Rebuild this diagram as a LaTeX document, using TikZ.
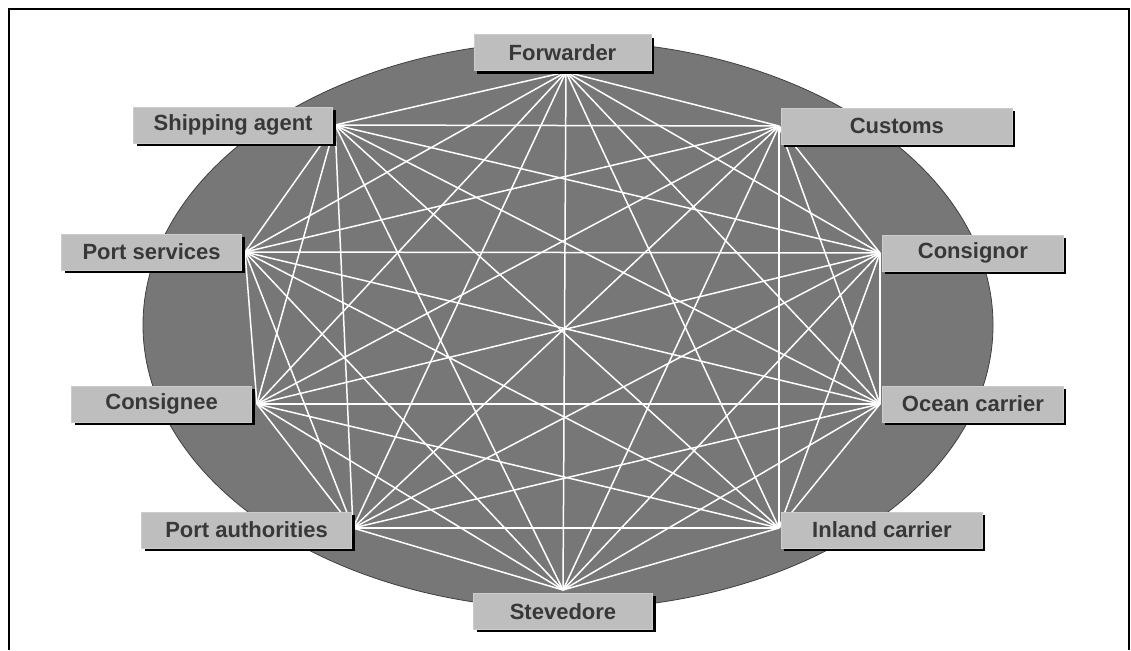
\documentclass[tikz,border=0pt]{standalone}
\usepackage{fontspec}
\setsansfont{Liberation Sans}
\usetikzlibrary{positioning,shadows}
\definecolor{Disc}{HTML}{777777}
\definecolor{BoxGray}{HTML}{BEBEBE}
\definecolor{LabelInk}{HTML}{383838}

\begin{document}
\begin{tikzpicture}[x=1pt,y=-1pt,
    party/.style={draw=white!80!black,fill=BoxGray,line width=0.8pt,
                  minimum height=36pt,inner sep=2pt,text=LabelInk,
                  font=\sffamily\bfseries\fontsize{22}{25}\selectfont,
                  drop shadow={shadow xshift=3pt,shadow yshift=-3pt,
                               fill=black,opacity=1}},
    link/.style={white,line width=1.5pt}]
  \useasboundingbox (0,0) rectangle (1131,650);
  % frame, open at the bottom
  \draw[line width=1.3pt] (9,650) -- (9,9) -- (1129,9) -- (1129,650);
  \filldraw[fill=Disc,draw=black!75,line width=0.8pt]
    (568,325) ellipse [x radius=425pt,y radius=284pt];

  % hubs where the links meet
  \foreach \n/\x/\y in {fwd/566/72,ship/335/125,cust/779/126,psvc/245/252,
      cnor/880/253,cnee/257/404,ocean/880/404,pauth/353/528,
      inland/779/528,stev/563/590}
    \coordinate (\n) at (\x,\y);

  % every party is linked with every other one
  \foreach \a [count=\i] in {fwd,ship,cust,psvc,cnor,cnee,ocean,pauth,inland,stev}
    \foreach \b [count=\j] in {fwd,ship,cust,psvc,cnor,cnee,ocean,pauth,inland,stev}
      {\ifnum\i<\j \draw[link] (\a) -- (\b); \fi}

  \node[party,minimum width=177pt,above=1pt of fwd,xshift=-3.5pt] (fwdbox) {Forwarder};
  \node[party,minimum width=199pt,left=2pt of ship] (shipbox) {Shipping agent};
  \node[party,minimum width=231pt,right=2pt of cust] (custbox) {Customs};
  \node[party,minimum width=180pt,left=3pt of psvc] (psvcbox) {Port services};
  \node[party,minimum width=181pt,right=2pt of cnor] (cnorbox) {Consignor};
  \node[party,minimum width=180pt,left=5pt of cnee] (cneebox) {Consignee};
  \node[party,minimum width=181pt,right=2pt of ocean] (oceanbox) {Ocean carrier};
  \node[party,minimum width=210pt,left=1pt of pauth,yshift=-2pt] (pauthbox) {Port authorities};
  \node[party,minimum width=201pt,right=2pt of inland,yshift=-2pt] (inlandbox) {Inland carrier};
  \node[party,minimum width=179pt,below=3pt of stev] (stevbox) {Stevedore};
\end{tikzpicture}
\end{document}
